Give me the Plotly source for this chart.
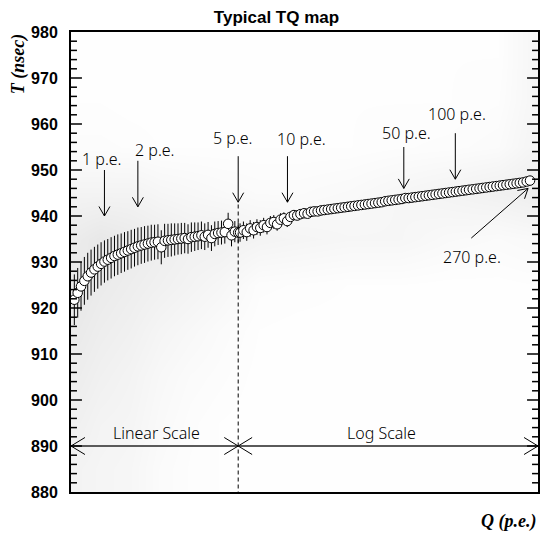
import math
import plotly.graph_objects as go

# ---------------- data ----------------
# linear part: charge Q (p.e.), mean time T (nsec), error
LIN_Q = [0.1, 0.2, 0.3, 0.4, 0.5, 0.6, 0.7, 0.8, 0.9, 1.0,
         1.1, 1.2, 1.3, 1.4, 1.5, 1.6, 1.7, 1.8, 1.9, 2.0,
         2.1, 2.2, 2.3, 2.4, 2.5, 2.6, 2.7, 2.8, 2.9, 3.0,
         3.1, 3.2, 3.3, 3.4, 3.5, 3.6, 3.7, 3.8, 3.9, 4.0,
         4.1, 4.2, 4.3, 4.4, 4.5, 4.6, 4.7, 4.8, 4.9, 5.0]
LIN_T = [921.8, 923.3, 924.7, 925.9, 926.9, 927.7, 928.4, 929.0, 929.6, 930.1,
         930.5, 930.9, 931.3, 931.6, 931.9, 932.2, 932.5, 932.8, 933.1, 933.4,
         933.6, 933.8, 934.0, 934.2, 934.3, 934.4, 933.2, 934.6, 934.7, 934.8,
         934.9, 935.0, 935.1, 935.2, 935.0, 935.4, 935.5, 935.6, 935.8, 935.5,
         935.9, 935.2, 936.1, 936.3, 936.4, 936.5, 938.3, 935.8, 936.6, 936.4]
LIN_ERR = [5.5, 5.4, 5.3, 5.2, 5.1, 5.0, 4.9, 4.8, 4.7, 4.6,
           4.5, 4.5, 4.4, 4.4, 4.3, 4.3, 4.2, 4.2, 4.1, 4.1,
           4.0, 4.0, 3.9, 3.9, 3.8, 3.8, 3.7, 3.7, 3.6, 3.6,
           3.5, 3.4, 3.4, 3.3, 3.2, 3.2, 3.1, 3.0, 3.0, 2.9,
           2.8, 2.8, 2.7, 2.6, 2.6, 2.5, 2.4, 2.4, 2.3, 2.2]

# log part
LOG_Q = [5.13, 5.37, 5.62, 5.89, 6.17, 6.46, 6.76, 7.08, 7.41, 7.76,
         8.13, 8.51, 8.91, 9.33, 9.77, 10.2, 10.7, 11.2, 11.7, 12.3,
         12.9, 13.5, 14.1, 14.8, 15.5, 16.2, 17.0, 17.8, 18.6, 19.5,
         20.4, 21.4, 22.4, 23.4, 24.5, 25.7, 26.9, 28.2, 29.5, 30.9,
         32.4, 33.9, 35.5, 37.2, 38.9, 40.7, 42.7, 44.7, 46.8, 49.0,
         51.3, 53.7, 56.2, 58.9, 61.7, 64.6, 67.6, 70.8, 74.1, 77.6,
         81.3, 85.1, 89.1, 93.3, 97.7, 102, 107, 112, 117, 123,
         129, 135, 141, 148, 155, 162, 170, 178, 186, 195,
         204, 214, 224, 234, 245, 257, 269]
LOG_T = [936.4, 936.9, 936.5, 937.3, 936.9, 937.6, 937.4, 938.0, 937.6, 938.5,
         938.7, 938.2, 939.2, 939.5, 938.9, 939.8, 940.2, 940.1, 940.4, 940.6,
         940.5, 940.9, 941.0, 941.0, 941.2, 941.3, 941.4, 941.5, 941.6, 941.7,
         941.8, 941.9, 942.0, 942.1, 942.2, 942.3, 942.4, 942.5, 942.6, 942.7,
         942.8, 942.9, 943.0, 943.2, 943.3, 943.4, 943.5, 943.6, 943.7, 943.9,
         943.9, 944.0, 944.1, 944.2, 944.3, 944.4, 944.5, 944.6, 944.7, 944.8,
         944.9, 945.0, 945.1, 945.2, 945.3, 945.4, 945.5, 945.6, 945.7, 945.8,
         945.9, 946.0, 946.1, 946.2, 946.3, 946.4, 946.5, 946.6, 946.7, 946.8,
         946.9, 947.0, 947.1, 947.2, 947.3, 947.5, 947.7]
LOG_ERR = [2.0, 1.9, 1.9, 1.8, 1.8, 1.7, 1.7, 1.6, 1.6, 1.5,
           1.5, 1.4, 1.4, 1.3, 1.3, 1.2, 1.1, 1.0, 1.0, 0.9,
           0.9, 0.8, 0.8, 0.7, 0.7, 0.7, 0.6, 0.6, 0.6, 0.6,
           0.5, 0.5, 0.5, 0.5, 0.5, 0.5, 0.5, 0.5, 0.5, 0.5,
           0.5, 0.5, 0.5, 0.5, 0.5, 0.5, 0.5, 0.5, 0.5, 0.5,
           0.5, 0.5, 0.5, 0.5, 0.5, 0.5, 0.5, 0.5, 0.5, 0.5,
           0.5, 0.5, 0.5, 0.5, 0.5, 0.5, 0.5, 0.5, 0.5, 0.5,
           0.5, 0.5, 0.5, 0.5, 0.5, 0.5, 0.5, 0.6, 0.6, 0.6,
           0.6, 0.7, 0.7, 0.7, 0.8, 0.9, 1.0]

# estimated density of the raw-event dust (display columns x rows)
DUST_U = [0.020, 0.062, 0.126, 0.190, 0.254, 0.318, 0.403, 0.489, 0.595, 0.702, 0.808, 0.915, 0.989]
DUST_T = [885, 895, 905, 915, 925, 935, 945, 955, 965, 975]
DUST_Z = [
    [0.40, 0.35, 0.30, 0.15, 0.08, 0.05, 0.02, 0.02, 0.02, 0.02, 0.02, 0.02, 0.02],
    [0.50, 0.40, 0.35, 0.20, 0.10, 0.05, 0.02, 0.02, 0.02, 0.02, 0.02, 0.02, 0.02],
    [0.60, 0.50, 0.40, 0.25, 0.15, 0.10, 0.03, 0.02, 0.02, 0.02, 0.02, 0.02, 0.02],
    [0.70, 0.60, 0.50, 0.35, 0.25, 0.15, 0.05, 0.03, 0.03, 0.02, 0.02, 0.02, 0.03],
    [0.80, 0.70, 0.60, 0.50, 0.40, 0.30, 0.10, 0.08, 0.05, 0.05, 0.03, 0.03, 0.05],
    [0.70, 0.80, 0.70, 0.60, 0.50, 0.50, 0.40, 0.35, 0.30, 0.30, 0.20, 0.15, 0.20],
    [0.40, 0.40, 0.40, 0.30, 0.25, 0.20, 0.15, 0.15, 0.20, 0.30, 0.40, 0.50, 0.60],
    [0.10, 0.10, 0.08, 0.05, 0.05, 0.05, 0.05, 0.05, 0.05, 0.08, 0.10, 0.15, 0.35],
    [0.05, 0.05, 0.03, 0.03, 0.03, 0.03, 0.03, 0.03, 0.05, 0.05, 0.05, 0.08, 0.30],
    [0.05, 0.05, 0.03, 0.03, 0.03, 0.02, 0.02, 0.02, 0.03, 0.05, 0.05, 0.05, 0.30],
]

# ---------------- axis mapping (linear 0-5 p.e., log 5-300 p.e.) ----------------
Q_SPLIT = 5.0
Q_MAX = 300.0
U_SPLIT = 0.358


def qx(q):
    if q <= Q_SPLIT:
        return q / Q_SPLIT * U_SPLIT
    return U_SPLIT + (1 - U_SPLIT) * math.log10(q / Q_SPLIT) / math.log10(Q_MAX / Q_SPLIT)


W, H = 544, 535
ML, MR, MT, MB = 71, 4, 32, 43
PW, PH = W - ML - MR, H - MT - MB
YMIN, YMAX = 880, 980


def to_px(u, t):
    return u * PW, (t - YMIN) / (YMAX - YMIN) * PH


def to_data(px, py):
    return px / PW, YMIN + py / PH * (YMAX - YMIN)


def head_path(tail, tip, length, half):
    (x0, y0), (x1, y1) = to_px(*tail), to_px(*tip)
    dx, dy = x1 - x0, y1 - y0
    n = math.hypot(dx, dy)
    dx, dy = dx / n, dy / n
    a1 = to_data(x1 - dx * length - dy * half, y1 - dy * length + dx * half)
    a2 = to_data(x1 - dx * length + dy * half, y1 - dy * length - dx * half)
    return f"M{a1[0]},{a1[1]} L{tip[0]},{tip[1]} L{a2[0]},{a2[1]}"


fig = go.Figure()

fig.add_trace(go.Heatmap(
    x=DUST_U, y=DUST_T, z=DUST_Z, zmin=0, zmax=1, zsmooth="best",
    colorscale=[[0, "#ffffff"], [1, "#e2e2e2"]], showscale=False, hoverinfo="skip"))

fig.add_trace(go.Scatter(
    x=[qx(q) for q in LIN_Q + LOG_Q], y=LIN_T + LOG_T, mode="markers",
    marker=dict(symbol="circle", size=9.5, color="white", line=dict(color="black", width=1)),
    error_y=dict(type="data", array=LIN_ERR + LOG_ERR, color="black", thickness=1, width=0),
    showlegend=False, hoverinfo="skip"))

shapes = []
annos = []
TXT = dict(family="Noto Sans", size=16, color="black", weight=300)

# labelled arrows: (label, text Q, text T, tail Q, tail T, tip Q, tip T)
ARROWS = [
    ("1 p.e.", 0.93, 952.5, 1.0, 950.0, 1.0, 940.0),
    ("2 p.e.", 2.51, 954.3, 2.0, 952.0, 2.0, 942.0),
    ("5 p.e.", 4.85, 957.0, 5.0, 953.0, 5.0, 943.0),
    ("10 p.e.", 11.9, 956.7, 9.8, 953.0, 9.8, 943.0),
    ("50 p.e.", 50.0, 958.1, 48.0, 955.0, 48.0, 946.0),
    ("100 p.e.", 99.7, 962.1, 97.0, 958.0, 97.0, 948.0),
    ("270 p.e.", 122.0, 931.1, 120.6, 935.2, 262.0, 946.0),
]
for lab, tq, tt, q0, t0, q1, t1 in ARROWS:
    annos.append(dict(x=qx(tq), y=tt, xref="x", yref="y", text=lab, showarrow=False,
                      xanchor="center", yanchor="middle", font=TXT))
    shapes.append(dict(type="line", xref="x", yref="y", x0=qx(q0), y0=t0, x1=qx(q1), y1=t1,
                       line=dict(color="black", width=1)))
    shapes.append(dict(type="path", xref="x", yref="y",
                       path=head_path((qx(q0), t0), (qx(q1), t1), 9.5, 5.5),
                       line=dict(color="black", width=1)))

# dashed separation line
shapes.append(dict(type="line", xref="x", yref="y", x0=U_SPLIT, x1=U_SPLIT, y0=942.5, y1=880,
                   line=dict(color="black", width=1, dash="4px,3px")))

# scale arrows at T = 890
SCALE_T = 890
shapes.append(dict(type="line", xref="x", yref="y", x0=0, x1=1, y0=SCALE_T, y1=SCALE_T,
                   line=dict(color="#5a5a5a", width=2)))
for tail, tip in [((0.1, SCALE_T), (0.0, SCALE_T)),
                  ((0.2, SCALE_T), (U_SPLIT, SCALE_T)),
                  ((0.6, SCALE_T), (U_SPLIT, SCALE_T)),
                  ((0.8, SCALE_T), (1.0, SCALE_T))]:
    shapes.append(dict(type="path", xref="x", yref="y", path=head_path(tail, tip, 14, 8.5),
                       line=dict(color="black", width=1)))
annos.append(dict(x=qx(2.56), y=892.9, xref="x", yref="y", text="Linear Scale", showarrow=False,
                  xanchor="center", yanchor="middle", font=TXT))
annos.append(dict(x=qx(35.4), y=892.9, xref="x", yref="y", text="Log Scale", showarrow=False,
                  xanchor="center", yanchor="middle", font=TXT))

# y-axis tick marks inside the frame on both sides (ROOT style)
for tv in range(YMIN + 2, YMAX, 2):
    ln = (11 if tv % 10 == 0 else 6) / PW
    for xa, xb in ((0, ln), (1 - ln, 1)):
        shapes.append(dict(type="line", xref="x", yref="y", x0=xa, x1=xb, y0=tv, y1=tv,
                           line=dict(color="black", width=1.5)))

# axis titles
TITLE_FONT = dict(family="Liberation Serif", size=18, color="black", weight="bold", style="italic")
annos.append(dict(x=-0.112, y=0.929, xref="paper", yref="paper", text="T (nsec)", textangle=-90,
                  showarrow=False, xanchor="center", yanchor="middle", font=TITLE_FONT))
annos.append(dict(x=1.0, y=-0.064, xref="paper", yref="paper", text="Q (p.e.)",
                  showarrow=False, xanchor="right", yanchor="middle", font=TITLE_FONT))

fig.update_layout(
    width=W, height=H, margin=dict(l=ML, r=MR, t=MT, b=MB),
    paper_bgcolor="white", plot_bgcolor="white",
    title=dict(text="Typical TQ map", x=276.5 / W, xanchor="center", y=1 - 17 / H, yanchor="middle",
               font=dict(family="Liberation Sans", size=17, color="black", weight="bold")),
    xaxis=dict(range=[0, 1], showgrid=False, zeroline=False, showticklabels=False, ticks="",
               showline=True, linecolor="black", linewidth=2, mirror=True, fixedrange=True),
    yaxis=dict(range=[YMIN, YMAX], tickmode="linear", tick0=880, dtick=10, ticks="",
               showgrid=False, zeroline=False,
               showline=True, linecolor="black", linewidth=2, mirror=True,
               ticklabelstandoff=8,
               tickfont=dict(family="Liberation Sans", size=16, color="black", weight="bold")),
    shapes=shapes, annotations=annos, showlegend=False,
)

fig.write_html("out.html")
